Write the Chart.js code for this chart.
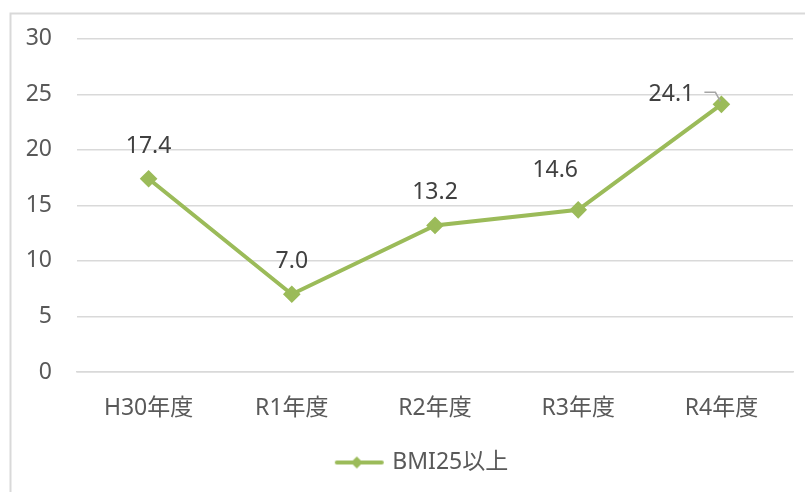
<!DOCTYPE html>
<html>
<head>
<meta charset="utf-8">
<script src="https://cdn.jsdelivr.net/npm/chart.js@4"></script>
<style>
  html, body { margin: 0; padding: 0; background: #fff; }
  #wrap { position: relative; width: 805px; height: 492px; }
</style>
</head>
<body>
<div id="wrap"><canvas id="bmiChart"></canvas></div>
<script>
// chart data
const categories = ["H30年度", "R1年度", "R2年度", "R3年度", "R4年度"];
const bmiValues = [17.4, 7.0, 13.2, 14.6, 24.1];
const seriesName = "BMI25以上";

const green = "#9BBB59";
const fontFamily = "'Noto Sans', 'Noto Sans CJK JP', sans-serif";
const fontSize = 23;

// legend marker: line with a diamond in the middle
function legendMarker() {
    const c = document.createElement('canvas');
    c.width = 58;
    c.height = 16;
    const g = c.getContext('2d');
    g.strokeStyle = green;
    g.lineWidth = 4;
    g.lineCap = 'round';
    g.beginPath();
    g.moveTo(5, 8);
    g.lineTo(50, 8);
    g.stroke();
    g.fillStyle = green;
    g.beginPath();
    g.moveTo(25, 2);
    g.lineTo(31, 8);
    g.lineTo(25, 14);
    g.lineTo(19, 8);
    g.closePath();
    g.fill();
    return c;
}

// frame around the chart (left and top edges only visible)
const framePlugin = {
    id: 'frame',
    beforeDraw(chart) {
        const ctx = chart.ctx;
        ctx.save();
        ctx.strokeStyle = '#d9d9d9';
        ctx.lineWidth = 2;
        ctx.beginPath();
        ctx.moveTo(10.5, chart.height);
        ctx.lineTo(10.5, 13.5);
        ctx.lineTo(chart.width, 13.5);
        ctx.stroke();
        ctx.restore();
    }
};

// legend sits a little right of the canvas centre
const legendShift = {
    id: 'legendShift',
    afterLayout(chart) {
        chart.legend.left += 28;
        chart.legend.right += 28;
    }
};

// value labels above the points
const labelOffsets = [[0, -32], [0, -33], [0, -33], [-23, -39], [-50, -10]];
const valueLabelPlugin = {
    id: 'valueLabels',
    afterDatasetsDraw(chart) {
        const ctx = chart.ctx;
        const meta = chart.getDatasetMeta(0);
        ctx.save();
        ctx.font = fontSize + "px " + fontFamily;
        ctx.fillStyle = '#404040';
        ctx.textAlign = 'center';
        ctx.textBaseline = 'middle';
        meta.data.forEach((pt, i) => {
            const off = labelOffsets[i];
            const tx = pt.x + off[0];
            const ty = pt.y + off[1];
            ctx.fillText(bmiValues[i].toFixed(1), tx, ty);
            if (i === bmiValues.length - 1) {
                ctx.strokeStyle = '#a6a6a6';
                ctx.lineWidth = 1.5;
                ctx.beginPath();
                ctx.moveTo(tx + 33, ty - 2);
                ctx.lineTo(tx + 44, ty - 2);
                ctx.lineTo(pt.x - 1, pt.y - 3);
                ctx.stroke();
            }
        });
        ctx.restore();
    }
};

new Chart(document.getElementById('bmiChart'), {
    type: 'line',
    data: {
        labels: categories,
        datasets: [{
            label: seriesName,
            data: bmiValues,
            borderColor: green,
            backgroundColor: green,
            borderWidth: 4,
            pointStyle: 'rectRot',
            pointRadius: 6,
            pointHoverRadius: 6,
            pointBackgroundColor: green,
            pointBorderColor: green,
            tension: 0
        }]
    },
    options: {
        responsive: true,
        maintainAspectRatio: false,
        animation: false,
        layout: { padding: { top: 36, right: 12, bottom: 8, left: 0 } },
        plugins: {
            tooltip: { enabled: false },
            legend: {
                position: 'bottom',
                labels: {
                    usePointStyle: true,
                    pointStyle: legendMarker(),
                    pointStyleWidth: 40,
                    boxHeight: 16,
                    color: '#595959',
                    font: { size: fontSize, family: fontFamily },
                    padding: 10
                }
            }
        },
        scales: {
            x: {
                offset: true,
                grid: { display: false, drawTicks: false },
                border: { display: true, color: '#d9d9d9', width: 1.5 },
                ticks: { color: '#595959', padding: 23, font: { size: fontSize, family: fontFamily } },
                afterFit(s) { s.height = 69; }
            },
            y: {
                min: 0,
                max: 30,
                grid: { color: '#d9d9d9', lineWidth: 1.5, drawTicks: false },
                border: { display: false },
                ticks: { stepSize: 5, color: '#595959', padding: 25, font: { size: fontSize, family: fontFamily } },
                afterFit(s) { s.width = 77; }
            }
        }
    },
    plugins: [framePlugin, legendShift, valueLabelPlugin]
});
</script>
</body>
</html>
